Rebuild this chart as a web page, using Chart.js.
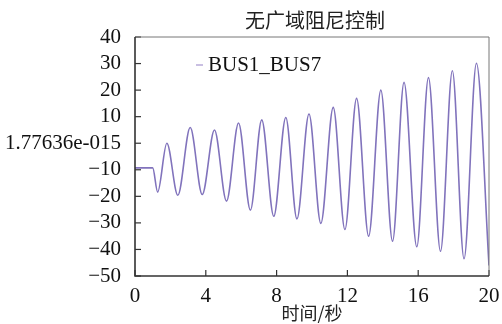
<!DOCTYPE html>
<html>
<head>
<meta charset="utf-8">
<script src="https://cdn.jsdelivr.net/npm/chart.js@4"></script>
<style>
  html, body { margin: 0; padding: 0; background: #fff; }
  #wrap { width: 502px; height: 324px; }
</style>
</head>
<body>
<div id="wrap"><canvas id="chart" width="502" height="324"></canvas></div>
<script>
// values: flat start, then each trough / peak of the swing
const timeSec = [0, 1.0, 1.28, 1.80, 2.42, 3.12, 3.80, 4.49, 5.17, 5.85, 6.52, 7.16, 7.84, 8.52,
  9.15, 9.83, 10.50, 11.20, 11.86, 12.52, 13.20, 13.89, 14.55, 15.20, 15.92, 16.58, 17.26,
  17.93, 18.59, 19.29, 20.0];
const bus1Bus7 = [-9.3, -9.3, -18.4, 0.0, -19.6, 5.9, -19.3, 5.0, -21.8, 7.6, -25.2, 8.8, -27.5, 9.7,
  -28.5, 11.0, -30.2, 13.5, -32.5, 16.9, -35.0, 20.0, -36.9, 22.9, -39.0, 24.7, -40.7,
  27.3, -43.5, 30.1, -46.0];
const seriesName = 'BUS1_BUS7';
const chartTitle = '无广域阻尼控制';
const xTitle = '时间/秒';
const zeroLabel = '1.77636e-015';

const serif = '"Liberation Serif", "Times New Roman", serif';

// frame, inward ticks, title and legend
const decor = {
  id: 'decor',
  afterDraw(chart) {
    const { ctx, chartArea: a, scales } = chart;
    ctx.save();
    // inward tick marks
    ctx.strokeStyle = '#333';
    ctx.lineWidth = 1.2;
    scales.y.ticks.forEach(t => {
      const y = scales.y.getPixelForValue(t.value);
      ctx.beginPath(); ctx.moveTo(a.left, y); ctx.lineTo(a.left + 6, y); ctx.stroke();
    });
    scales.x.ticks.forEach(t => {
      const x = scales.x.getPixelForValue(t.value);
      ctx.beginPath(); ctx.moveTo(x, a.bottom); ctx.lineTo(x, a.bottom - 6); ctx.stroke();
    });
    // frame
    ctx.strokeStyle = '#777';
    ctx.lineWidth = 1;
    ctx.beginPath();
    ctx.moveTo(a.left, a.top); ctx.lineTo(a.right, a.top); ctx.lineTo(a.right, a.bottom);
    ctx.stroke();
    ctx.strokeStyle = '#333';
    ctx.lineWidth = 1.6;
    ctx.beginPath();
    ctx.moveTo(a.left, a.top); ctx.lineTo(a.left, a.bottom); ctx.lineTo(a.right, a.bottom);
    ctx.stroke();
    // title
    ctx.fillStyle = '#222';
    ctx.font = '20px "Noto Sans CJK SC", sans-serif';
    ctx.textAlign = 'center';
    ctx.textBaseline = 'middle';
    ctx.fillText(chartTitle, (a.left + a.right) / 2 + 3, 20);
    // legend
    ctx.strokeStyle = '#c9bfe2';
    ctx.lineWidth = 2;
    ctx.beginPath(); ctx.moveTo(196, 65); ctx.lineTo(203, 65); ctx.stroke();
    ctx.fillStyle = '#111';
    ctx.font = '21px ' + serif;
    ctx.textAlign = 'left';
    ctx.fillText(seriesName, 208, 65);
    ctx.restore();
  }
};

new Chart(document.getElementById('chart'), {
  type: 'line',
  data: {
    labels: timeSec,
    datasets: [{
      label: seriesName,
      data: timeSec.map((t, i) => ({ x: t, y: bus1Bus7[i] })),
      borderColor: '#8173bc',
      borderWidth: 1.6,
      pointRadius: 0,
      cubicInterpolationMode: 'monotone'
    }]
  },
  options: {
    responsive: false,
    animation: false,
    layout: { padding: { left: 0, right: 13, top: 37, bottom: 0 } },
    plugins: { legend: { display: false }, title: { display: false }, tooltip: { enabled: false } },
    scales: {
      x: {
        type: 'linear', min: 0, max: 20,
        grid: { display: false },
        border: { display: false },
        ticks: { stepSize: 4, autoSkip: false, maxRotation: 0, color: '#111', padding: 0,
          font: { family: serif, size: 21 } },
        title: { display: true, text: xTitle, color: '#222', padding: 0,
          font: { family: '"Noto Sans CJK SC", sans-serif', size: 18 } },
        afterFit: s => { s.height = 48; }
      },
      y: {
        min: -50, max: 40,
        grid: { display: false },
        border: { display: false },
        ticks: {
          stepSize: 10, autoSkip: false, color: '#111', padding: 6, font: { family: serif, size: 21 },
          callback: v => v === 0 ? zeroLabel : (v < 0 ? '\u2212' + Math.abs(v) : String(v))
        },
        afterFit: s => { s.width = 135; }
      }
    }
  },
  plugins: [decor]
});
</script>
</body>
</html>
